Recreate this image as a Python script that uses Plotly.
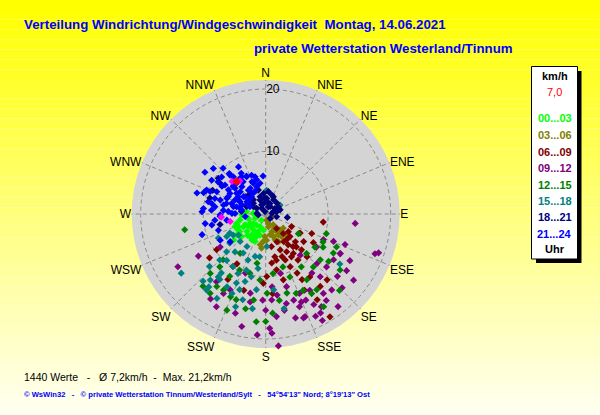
import plotly.graph_objects as go

# compass labels for the angular axis
dirs = ["N", "NNE", "NE", "ENE", "E", "ESE", "SE", "SSE",
        "S", "SSW", "SW", "WSW", "W", "WNW", "NW", "NNW"]
dir_deg = [0, 22.5, 45, 67.5, 90, 112.5, 135, 157.5,
           180, 202.5, 225, 247.5, 270, 292.5, 315, 337.5]

bands = ["00...03", "03...06", "06...09", "09...12", "12...15", "15...18", "18...21", "21...24"]
band_colors = ["#00FF00", "#808000", "#800000", "#800080", "#008000", "#008080", "#000080", "#0000FF"]

# wind speed (km/h) and direction (deg) per three-hour band
spd_00 = [5.3, 4.2, 3.3, 2.9, 3.2, 3.9, 2.2, 4.1, 5.3, 4.7, 5.7, 1.8, 1.2, 3.4, 4.1, 3.1, 5.1, 2.0,
          2.6, 6.6, 4.7, 4.0, 3.7, 2.3, 5.0, 2.9, 3.5, 3.0, 4.5, 2.5, 4.8, 3.6, 3.1, 3.8, 4.5, 4.9]
dir_00 = [248, 257, 263, 239, 218, 202, 204, 227, 227, 208, 234, 248, 214, 234, 240, 203, 240, 273,
          188, 231, 201, 214, 242, 219, 236, 256, 195, 228, 220, 232, 245, 206, 277, 268, 210, 252]

spd_03 = [1.0, 2.1, 2.1, 3.3, 4.4, 5.2, 3.4, 4.4, 5.0, 1.1, 3.4, 4.4, 3.6, 5.5, 3.9, 3.0, 3.6,
          1.6, 2.7, 3.9, 4.8, 3.8, 4.2, 4.9]
dir_03 = [170, 168, 145, 148, 145, 143, 168, 185, 190, 114, 138, 160, 182, 187, 149, 161, 129,
          164, 147, 143, 135, 161, 178, 155]

spd_06 = [2.9, 4.2, 5.3, 6.5, 6.3, 6.1, 6.2, 7.0, 8.0, 7.7, 8.1, 9.5, 8.0, 9.3, 8.9, 7.9, 9.1, 10.0,
          9.3, 10.7, 12.3, 14.5, 19.4, 16.0, 12.0, 10.9, 11.1, 12.8, 9.2, 9.9, 11.4, 9.7, 12.1, 12.7,
          13.7, 4.6, 6.9, 9.0, 14.4, 4.8, 5.3, 5.3, 6.8, 5.3, 7.3, 7.2, 8.0, 7.6, 7.5, 4.6]
dir_06 = [143, 138, 133, 133, 119, 144, 158, 168, 157, 145, 135, 136, 113, 98, 121, 173, 169, 179,
          155, 152, 145, 143, 148, 149, 151, 165, 182, 175, 210, 212, 232, 234, 210, 196,
          153, 116, 151, 145, 137, 158, 170, 147, 140, 141, 159, 137, 149, 167, 126, 128]

spd_09 = [14.4, 18.6, 19.1, 15.4, 11.7, 10.1, 13.5, 13.6, 13.1, 12.9, 11.4, 12.0, 13.3, 16.1, 15.7,
          18.1, 19.3, 17.6, 17.3, 15.8, 16.4, 14.7, 21.2, 19.1, 19.4, 18.4, 16.6, 16.8, 16.2, 12.7,
          16.4, 9.0, 13.4, 12.9, 13.8, 12.1, 13.8, 14.1, 15.2, 17.6, 15.8, 9.7, 8.6, 9.8, 11.7, 14.5,
          16.9, 18.8, 15.2, 16.5, 14.4, 14.3, 15.4, 13.1, 10.0, 13.4, 13.5, 17.0, 17.3, 18.2, 17.7,
          15.2, 15.7, 13.8, 18.3]
dir_09 = [96, 110, 109, 119, 112, 114, 118, 111, 124, 131, 134, 142, 139, 139, 144,
          151, 152, 159, 164, 160, 152, 167, 174.5, 177, 184, 192, 197, 208, 213, 238,
          239, 234, 205, 191, 182, 164, 157, 150, 131, 127, 125, 123, 140, 166, 175, 162,
          145, 142, 155, 174, 208, 190, 180, 172, 199, 216, 118, 134, 149, 154, 160,
          158, 169, 176, 178]

spd_12 = [13.2, 10.6, 12.5, 14.9, 17.0, 12.6, 11.4, 11.4, 12.4, 13.6, 13.1, 14.0, 12.7, 17.2, 17.3,
          15.5, 16.6, 14.4, 14.0, 13.0, 11.2, 11.5, 9.9, 9.8, 8.0, 10.6, 9.6, 10.8, 10.2, 9.1, 9.5,
          10.2, 12.5, 6.1, 13.6, 14.6, 17.5, 15.3, 15.5, 13.9, 14.5, 13.9, 15.9, 7.5, 10.0, 8.9,
          10.2, 14.7]
dir_12 = [259, 120, 120, 127, 136, 127, 130, 138, 148, 159, 165, 171, 179, 180, 185,
          192, 202, 203, 214, 223, 221, 210, 205, 195, 190, 185, 173, 159, 146, 134, 124,
          116, 115, 121, 154, 146, 148, 221, 215, 209, 199, 188, 176, 213, 223, 162,
          108, 150]

spd_15 = [16.5, 14.8, 13.8, 15.6, 12.6, 11.8, 9.7, 9.9, 10.5, 7.4, 8.7, 7.8, 7.2, 7.9, 7.0, 8.8,
          10.3, 11.3, 12.0, 13.2, 15.6, 15.3, 12.2, 12.2, 15.4, 15.4, 10.4, 6.5, 6.0, 6.0, 5.2, 6.9,
          12.3, 14.7, 13.8, 14.2, 12.8, 12.8, 9.5, 2.7, 3.8, 7.2, 14.3, 8.5, 6.2, 5.5]
dir_15 = [235, 218, 220, 210, 217, 217, 220, 212, 205, 231, 226, 219, 210, 201, 194, 188,
          193, 197, 203, 208, 198, 188, 187, 174, 169, 218, 225, 242, 223, 210, 178, 188,
          227, 223, 203, 195, 215, 199, 199, 58, 2, 240, 124, 243, 237, 232]

spd_18 = [1.6, 2.0, 1.4, 1.3, 0.4, 1.2, 1.0, 1.8, 2.6, 3.4, 3.9, 3.5, 9.3, 8.8, 2.9, 3.6, 2.6, 2.3,
          3.0, 3.3, 1.7, 4.0, 4.0, 2.5, 1.7, 1.0, 4.1, 1.7, 9.5, 7.5, 9.3, 1.8, 2.5, 1.1, 2.3, 2.4,
          3.2, 3.3, 2.4, 1.2, 3.0, 3.0, 1.8, 2.5, 1.4]
dir_18 = [336, 5, 31, 73, 344, 262, 135, 104, 311, 295, 276, 99, 294, 304, 342, 7, 29, 60,
          319, 291, 348, 343, 326, 4, 59, 84, 318, 302, 307, 257, 286, 22, 46, 325, 301, 74,
          18, 354, 338, 20, 24, 304, 78, 358, 274]

spd_21 = [11.8, 11.1, 10.0, 8.7, 8.7, 7.1, 6.8, 6.2, 6.1, 5.7, 10.2, 9.2, 8.3, 10.5, 11.5, 9.6, 8.5,
          9.4, 10.0, 8.7, 9.8, 10.7, 8.4, 8.2, 7.1, 6.8, 6.8, 5.8, 4.7, 6.7, 6.9, 5.7, 4.9, 4.5, 3.5,
          3.9, 4.2, 4.9, 6.0, 7.3, 2.8, 3.3, 7.9, 5.6, 5.0, 5.7, 3.6, 5.3, 4.6, 4.1, 10.2, 8.0, 7.2,
          6.6, 5.4, 5.4, 4.3, 4.8, 4.8, 6.5, 3.9, 6.9, 7.6, 8.2, 6.8, 6.3, 5.3, 3.3,
          10.2, 8.8, 8.6, 8.0, 9.2, 8.5, 7.6, 6.7, 6.6, 5.2, 5.4, 6.3, 7.3, 8.8, 6.4, 4.6, 3.6, 4.0,
          6.6, 7.0]
dir_21 = [304.5, 311, 317, 318, 330, 327, 333, 344, 356, 345, 302, 304, 302.5, 289, 287, 292, 287,
          282, 275, 274, 261, 252, 240, 263, 303, 310, 317, 319, 324, 292, 282, 287, 297, 308, 315,
          329, 282.5, 271, 274, 269, 295, 263, 319, 337, 349.5, 305.5, 303, 283, 342, 291, 272, 251, 232,
          300, 294.5, 311, 310, 329, 284, 285, 279.5, 312, 287, 278, 275, 325, 338, 302,
          292, 281, 294.5, 305.5, 310, 317.5, 329, 333, 340, 302, 271, 261, 267, 258.5, 310, 296, 321, 334.5,
          295, 321]

# last readings (magenta) and the current value (red, 7,0 km/h)
spd_last = [7.5, 6.7, 7.1, 5.8]
dir_last = [314, 322, 266, 258]
spd_now = [7.0]
dir_now = [318]

speeds = [spd_00, spd_03, spd_06, spd_09, spd_12, spd_15, spd_18, spd_21]
directions = [dir_00, dir_03, dir_06, dir_09, dir_12, dir_15, dir_18, dir_21]

W, H = 600, 415
FONT = "Liberation Sans, Arial, sans-serif"


def px(x):
    return x / W


def py(y):
    return 1 - y / H


fig = go.Figure()
for name, col, r, t in zip(bands, band_colors, speeds, directions):
    fig.add_trace(go.Scatterpolar(r=r, theta=t, mode="markers", name=name,
                                  marker=dict(symbol="diamond", size=5.5, color=col),
                                  showlegend=False))
fig.add_trace(go.Scatterpolar(r=spd_last, theta=dir_last, mode="markers",
                              marker=dict(symbol="diamond", size=5.5, color="#FF00FF"), showlegend=False))
fig.add_trace(go.Scatterpolar(r=spd_now, theta=dir_now, mode="markers",
                              marker=dict(symbol="diamond", size=6.5, color="#FF0000"), showlegend=False))

# yellow-to-pale background gradient
shapes = []
n = 42
for i in range(n):
    k = i / (n - 1)
    b = int(0 + 240 * k)
    shapes.append(dict(type="rect", xref="paper", yref="paper", layer="below",
                       x0=0, x1=1, y0=1 - (i + 1) / n, y1=1 - i / n,
                       fillcolor=f"rgb(255,255,{b})", line=dict(width=0)))

# legend box with drop shadow
shapes.append(dict(type="rect", xref="paper", yref="paper", layer="below",
                   x0=px(536), x1=px(581.5), y0=py(263), y1=py(71),
                   fillcolor="black", line=dict(width=0)))
shapes.append(dict(type="rect", xref="paper", yref="paper", layer="below",
                   x0=px(531.5), x1=px(577.5), y0=py(259), y1=py(66.5),
                   fillcolor="white", line=dict(color="black", width=1)))

ann = []
ann.append(dict(text="Verteilung Windrichtung/Windgeschwindigkeit\u00a0\u00a0Montag, 14.06.2021",
                x=px(22), y=py(24), xanchor="left", yanchor="middle",
                font=dict(family=FONT, size=13.3, color="#0000FF", weight="bold")))
ann.append(dict(text="private Wetterstation Westerland/Tinnum",
                x=px(252), y=py(48), xanchor="left", yanchor="middle",
                font=dict(family=FONT, size=13.3, color="#0000FF", weight="bold")))

lx = px(554.5)
ann.append(dict(text="km/h", x=lx, y=py(76), font=dict(family=FONT, size=11, color="black", weight="bold")))
ann.append(dict(text="7,0", x=lx, y=py(92), font=dict(family=FONT, size=11, color="#FF0000")))
band_y = [118, 135, 152, 168, 185, 201, 217, 234]
for name, col, yy in zip(bands, band_colors, band_y):
    ann.append(dict(text=name, x=lx, y=py(yy), font=dict(family=FONT, size=11, color=col, weight="bold")))
ann.append(dict(text="Uhr", x=lx, y=py(249), font=dict(family=FONT, size=11, color="black", weight="bold")))

ann.append(dict(text="1440 Werte\u00a0\u00a0\u00a0-\u00a0\u00a0\u00a0\u00d8 7,2km/h\u00a0\u00a0-\u00a0\u00a0Max. 21,2km/h",
                x=px(22), y=py(377), xanchor="left", yanchor="middle",
                font=dict(family=FONT, size=10.5, color="black")))
ann.append(dict(text="\u00a9 WsWin32\u00a0\u00a0\u00a0-\u00a0\u00a0\u00a0\u00a9 private Wetterstation Tinnum/Westerland/Sylt"
                     "\u00a0\u00a0\u00a0-\u00a0\u00a0\u00a054\u00b054'13\" Nord; 8\u00b019'13\" Ost",
                x=px(22), y=py(394), xanchor="left", yanchor="middle",
                font=dict(family=FONT, size=7.6, color="#0000FF", weight="bold")))
for a in ann:
    a.update(xref="paper", yref="paper", showarrow=False)
    a.setdefault("xanchor", "center")
    a.setdefault("yanchor", "middle")

cx, cy, rad = 265.7, 214, 134
fig.update_layout(
    width=W, height=H, margin=dict(l=0, r=0, t=0, b=0),
    paper_bgcolor="#FFFFF0",
    font=dict(family=FONT, size=12, color="black"),
    shapes=shapes, annotations=ann,
    polar=dict(
        domain=dict(x=[px(cx - rad), px(cx + rad)], y=[py(cy + rad), py(cy - rad)]),
        bgcolor="#D4D4D4",
        radialaxis=dict(range=[0, 21.44], tickvals=[10, 20], ticks="", showline=False,
                        angle=90, tickangle=90, side="clockwise",
                        gridcolor="#8A8A8A", griddash="4px,3px", gridwidth=1,
                        tickfont=dict(family=FONT, size=12, color="black")),
        angularaxis=dict(rotation=90, direction="clockwise", tickmode="array",
                         tickvals=dir_deg, ticktext=dirs, ticks="", showline=False,
                         gridcolor="#8A8A8A", griddash="4px,3px", gridwidth=1,
                         tickfont=dict(family=FONT, size=12, color="black")),
    ),
)

# drop the browser's default page margin so the figure sits at 0,0
fig.write_html("out.html", config={"displayModeBar": False},
               post_script="document.body.style.margin='0';")
